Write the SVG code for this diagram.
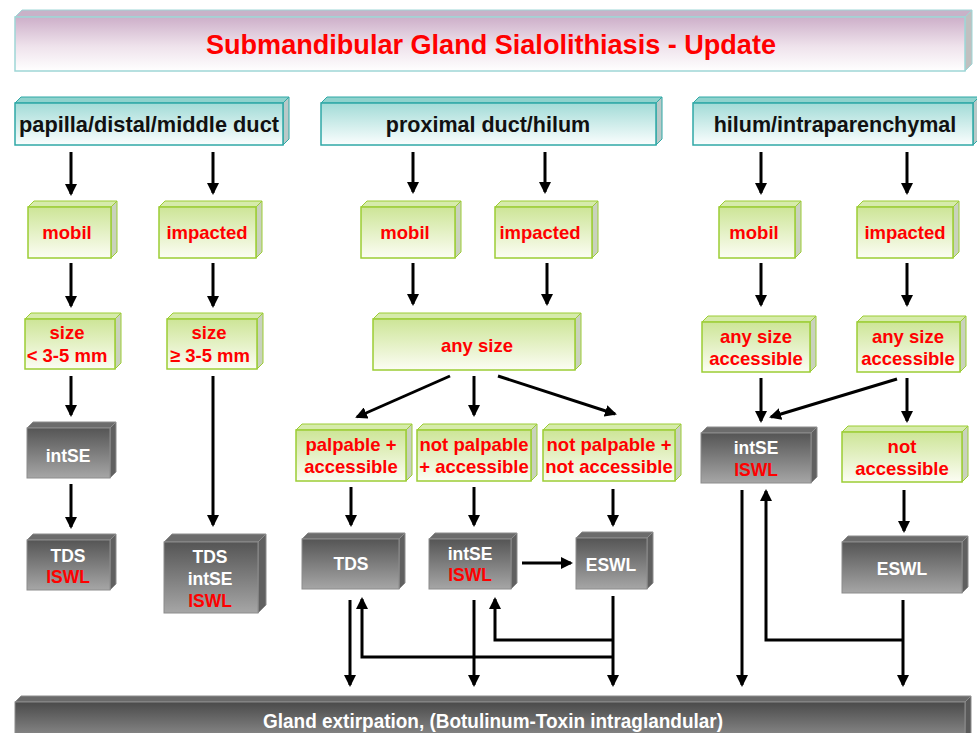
<svg xmlns="http://www.w3.org/2000/svg" width="977" height="733" viewBox="0 0 977 733">
<defs>
<linearGradient id="gTitle" x1="0" y1="0" x2="0" y2="1"><stop offset="0" stop-color="#cdafc9"/><stop offset="0.55" stop-color="#efe3ec"/><stop offset="1" stop-color="#ffffff"/></linearGradient>
<linearGradient id="gTeal" x1="0" y1="0" x2="0" y2="1"><stop offset="0" stop-color="#a2dbd7"/><stop offset="1" stop-color="#fbfefe"/></linearGradient>
<linearGradient id="gGreen" x1="0" y1="0" x2="0" y2="1"><stop offset="0" stop-color="#cde597"/><stop offset="1" stop-color="#fcfdf4"/></linearGradient>
<linearGradient id="gGray" x1="0" y1="0" x2="0" y2="1"><stop offset="0" stop-color="#555555"/><stop offset="1" stop-color="#a6a6a6"/></linearGradient>
<linearGradient id="gBar" x1="0" y1="0" x2="0" y2="1"><stop offset="0" stop-color="#4a4a4a"/><stop offset="1" stop-color="#9c9c9c"/></linearGradient>
<marker id="ah" viewBox="0 0 12 12" markerWidth="12" markerHeight="12" refX="10" refY="6" orient="auto" markerUnits="userSpaceOnUse"><path d="M0,0 L12,6 L0,12 z" fill="#000"/></marker>
</defs>
<style>
.t{font-family:"Liberation Sans",Arial,sans-serif;font-weight:bold;text-anchor:middle}
.hd{font-size:21.5px;fill:#111}
.gr{font-size:18.5px;fill:#ff0000}
.wt{font-size:17.5px;fill:#ffffff}
.rd{font-size:17.5px;fill:#ff0000}
.teal .f{fill:url(#gTeal);stroke:#2fa8a6;stroke-width:1.5}
.teal .tp{fill:#8fd2cd;stroke:#2fa8a6;stroke-width:1}
.teal .sd{fill:#b9c9c8;stroke:#2fa8a6;stroke-width:1}
.grn .f{fill:url(#gGreen);stroke:#9ccd34;stroke-width:1.5}
.grn .tp{fill:#d6ebab;stroke:#9ccd34;stroke-width:1}
.grn .sd{fill:#c9d2bd;stroke:#9ccd34;stroke-width:1}
.gry .f{fill:url(#gGray);stroke:#8c8c8c;stroke-width:1}
.gry .tp{fill:#6c6c6c;stroke:#8c8c8c;stroke-width:1}
.gry .sd{fill:#606060;stroke:#8c8c8c;stroke-width:1}
#connectors path{fill:none;stroke:#000;stroke-width:3;marker-end:url(#ah)}
</style>

<g id="title">
<polygon points="15,17 22,10 972,10 965,17" fill="#c8b2c8" stroke="#9ed6d6"/>
<polygon points="965,17 972,10 972,64 965,71" fill="#c0c0c0" stroke="#9ed6d6"/>
<rect x="15" y="17" width="950" height="54" fill="url(#gTitle)" stroke="#9ed6d6" stroke-width="1.5"/>
<text class="t" x="491" y="54" font-size="27" fill="#ff0000" textLength="570" lengthAdjust="spacingAndGlyphs">Submandibular Gland Sialolithiasis - Update</text>
</g>

<g id="h1" class="teal" transform="translate(15,103)">
<polygon class="tp" points="0,0 6,-6 274,-6 268,0"/><polygon class="sd" points="268,0 274,-6 274,36 268,42"/>
<rect class="f" x="0" y="0" width="268" height="42"/>
<text class="t hd" x="134" y="29" textLength="260" lengthAdjust="spacingAndGlyphs">papilla/distal/middle duct</text>
</g>
<g id="h2" class="teal" transform="translate(321,103)">
<polygon class="tp" points="0,0 6,-6 341,-6 335,0"/><polygon class="sd" points="335,0 341,-6 341,36 335,42"/>
<rect class="f" x="0" y="0" width="335" height="42"/>
<text class="t hd" x="167" y="29">proximal duct/hilum</text>
</g>
<g id="h3" class="teal" transform="translate(693,103)">
<polygon class="tp" points="0,0 6,-6 286,-6 280,0"/><polygon class="sd" points="280,0 286,-6 286,36 280,42"/>
<rect class="f" x="0" y="0" width="280" height="42"/>
<text class="t hd" x="142" y="29">hilum/intraparenchymal</text>
</g>

<g id="g1" class="grn" transform="translate(28,207)">
<polygon class="tp" points="0,0 6,-6 89,-6 83,0"/><polygon class="sd" points="83,0 89,-6 89,45 83,51"/>
<rect class="f" x="0" y="0" width="83" height="51"/>
<text class="t gr" x="39" y="32">mobil</text>
</g>
<g id="g2" class="grn" transform="translate(159,207)">
<polygon class="tp" points="0,0 6,-6 103,-6 97,0"/><polygon class="sd" points="97,0 103,-6 103,45 97,51"/>
<rect class="f" x="0" y="0" width="97" height="51"/>
<text class="t gr" x="48" y="32">impacted</text>
</g>
<g id="g3" class="grn" transform="translate(361,207)">
<polygon class="tp" points="0,0 6,-6 100,-6 94,0"/><polygon class="sd" points="94,0 100,-6 100,45 94,51"/>
<rect class="f" x="0" y="0" width="94" height="51"/>
<text class="t gr" x="44" y="32">mobil</text>
</g>
<g id="g4" class="grn" transform="translate(495,207)">
<polygon class="tp" points="0,0 6,-6 103,-6 97,0"/><polygon class="sd" points="97,0 103,-6 103,45 97,51"/>
<rect class="f" x="0" y="0" width="97" height="51"/>
<text class="t gr" x="45" y="32">impacted</text>
</g>
<g id="g5" class="grn" transform="translate(719,207)">
<polygon class="tp" points="0,0 6,-6 82,-6 76,0"/><polygon class="sd" points="76,0 82,-6 82,45 76,51"/>
<rect class="f" x="0" y="0" width="76" height="51"/>
<text class="t gr" x="35" y="32">mobil</text>
</g>
<g id="g6" class="grn" transform="translate(857,207)">
<polygon class="tp" points="0,0 6,-6 102,-6 96,0"/><polygon class="sd" points="96,0 102,-6 102,45 96,51"/>
<rect class="f" x="0" y="0" width="96" height="51"/>
<text class="t gr" x="48" y="32">impacted</text>
</g>

<g id="g7" class="grn" transform="translate(25,319)">
<polygon class="tp" points="0,0 6,-6 96,-6 90,0"/><polygon class="sd" points="90,0 96,-6 96,44 90,50"/>
<rect class="f" x="0" y="0" width="90" height="50"/>
<text class="t gr" x="42" y="20">size</text>
<text class="t gr" x="42" y="43">&lt; 3-5 mm</text>
</g>
<g id="g8" class="grn" transform="translate(167,319)">
<polygon class="tp" points="0,0 6,-6 96,-6 90,0"/><polygon class="sd" points="90,0 96,-6 96,44 90,50"/>
<rect class="f" x="0" y="0" width="90" height="50"/>
<text class="t gr" x="42" y="20">size</text>
<text class="t gr" x="43" y="43">≥ 3-5 mm</text>
</g>
<g id="g9" class="grn" transform="translate(373,319)">
<polygon class="tp" points="0,0 6,-6 208,-6 202,0"/><polygon class="sd" points="202,0 208,-6 208,45 202,51"/>
<rect class="f" x="0" y="0" width="202" height="51"/>
<text class="t gr" x="104" y="33">any size</text>
</g>
<g id="g10" class="grn" transform="translate(702,322)">
<polygon class="tp" points="0,0 6,-6 114,-6 108,0"/><polygon class="sd" points="108,0 114,-6 114,44 108,50"/>
<rect class="f" x="0" y="0" width="108" height="50"/>
<text class="t gr" x="54" y="21">any size</text>
<text class="t gr" x="54" y="43">accessible</text>
</g>
<g id="g11" class="grn" transform="translate(857,322)">
<polygon class="tp" points="0,0 6,-6 109,-6 103,0"/><polygon class="sd" points="103,0 109,-6 109,44 103,50"/>
<rect class="f" x="0" y="0" width="103" height="50"/>
<text class="t gr" x="51" y="21">any size</text>
<text class="t gr" x="51" y="43">accessible</text>
</g>

<g id="g12" class="grn" transform="translate(296,430)">
<polygon class="tp" points="0,0 6,-6 116,-6 110,0"/><polygon class="sd" points="110,0 116,-6 116,45 110,51"/>
<rect class="f" x="0" y="0" width="110" height="51"/>
<text class="t gr" x="55" y="21">palpable +</text>
<text class="t gr" x="55" y="43">accessible</text>
</g>
<g id="g13" class="grn" transform="translate(417,430)">
<polygon class="tp" points="0,0 6,-6 120,-6 114,0"/><polygon class="sd" points="114,0 120,-6 120,45 114,51"/>
<rect class="f" x="0" y="0" width="114" height="51"/>
<text class="t gr" x="57" y="21">not palpable</text>
<text class="t gr" x="57" y="43">+ accessible</text>
</g>
<g id="g14" class="grn" transform="translate(543,430)">
<polygon class="tp" points="0,0 6,-6 138,-6 132,0"/><polygon class="sd" points="132,0 138,-6 138,45 132,51"/>
<rect class="f" x="0" y="0" width="132" height="51"/>
<text class="t gr" x="66" y="21">not palpable +</text>
<text class="t gr" x="66" y="43">not accessible</text>
</g>
<g id="g15" class="grn" transform="translate(842,432)">
<polygon class="tp" points="0,0 6,-6 126,-6 120,0"/><polygon class="sd" points="120,0 126,-6 126,44 120,50"/>
<rect class="f" x="0" y="0" width="120" height="50"/>
<text class="t gr" x="60" y="21">not</text>
<text class="t gr" x="60" y="43">accessible</text>
</g>

<g id="k1" class="gry" transform="translate(27,428)">
<polygon class="tp" points="0,0 6,-6 89,-6 83,0"/><polygon class="sd" points="83,0 89,-6 89,44 83,50"/>
<rect class="f" x="0" y="0" width="83" height="50"/>
<text class="t wt" x="41" y="34">intSE</text>
</g>
<g id="k2" class="gry" transform="translate(27,540)">
<polygon class="tp" points="0,0 6,-6 89,-6 83,0"/><polygon class="sd" points="83,0 89,-6 89,44 83,50"/>
<rect class="f" x="0" y="0" width="83" height="50"/>
<text class="t wt" x="41" y="22">TDS</text>
<text class="t rd" x="41" y="43">ISWL</text>
</g>
<g id="k3" class="gry" transform="translate(164,542)">
<polygon class="tp" points="0,0 8,-8 102,-8 94,0"/><polygon class="sd" points="94,0 102,-8 102,63 94,71"/>
<rect class="f" x="0" y="0" width="94" height="71"/>
<text class="t wt" x="46" y="21">TDS</text>
<text class="t wt" x="46" y="43">intSE</text>
<text class="t rd" x="46" y="65">ISWL</text>
</g>
<g id="k4" class="gry" transform="translate(302,539)">
<polygon class="tp" points="0,0 6,-6 103,-6 97,0"/><polygon class="sd" points="97,0 103,-6 103,44 97,50"/>
<rect class="f" x="0" y="0" width="97" height="50"/>
<text class="t wt" x="49" y="31">TDS</text>
</g>
<g id="k5" class="gry" transform="translate(429,539)">
<polygon class="tp" points="0,0 6,-6 88,-6 82,0"/><polygon class="sd" points="82,0 88,-6 88,44 82,50"/>
<rect class="f" x="0" y="0" width="82" height="50"/>
<text class="t wt" x="41" y="21">intSE</text>
<text class="t rd" x="41" y="42">ISWL</text>
</g>
<g id="k6" class="gry" transform="translate(576,538)">
<polygon class="tp" points="0,0 6,-6 77,-6 71,0"/><polygon class="sd" points="71,0 77,-6 77,45 71,51"/>
<rect class="f" x="0" y="0" width="71" height="51"/>
<text class="t wt" x="35" y="33" font-size="18.5">ESWL</text>
</g>
<g id="k7" class="gry" transform="translate(701,433)">
<polygon class="tp" points="0,0 6,-6 116,-6 110,0"/><polygon class="sd" points="110,0 116,-6 116,44 110,50"/>
<rect class="f" x="0" y="0" width="110" height="50"/>
<text class="t wt" x="55" y="21">intSE</text>
<text class="t rd" x="55" y="43">ISWL</text>
</g>
<g id="k8" class="gry" transform="translate(842,542)">
<polygon class="tp" points="0,0 6,-6 126,-6 120,0"/><polygon class="sd" points="120,0 126,-6 126,45 120,51"/>
<rect class="f" x="0" y="0" width="120" height="51"/>
<text class="t wt" x="60" y="33" font-size="18.5">ESWL</text>
</g>

<g id="bar" class="gry" transform="translate(15,702)">
<polygon points="0,0 6,-6 956,-6 950,0" fill="#6a6a6a" stroke="#8c8c8c"/>
<polygon points="950,0 956,-6 956,40 950,46" fill="#5a5a5a" stroke="#8c8c8c"/>
<rect x="0" y="0" width="950" height="46" fill="url(#gBar)" stroke="#8c8c8c"/>
<text class="t" x="478" y="26" font-size="20.5" fill="#ffffff" textLength="460" lengthAdjust="spacingAndGlyphs">Gland extirpation, (Botulinum-Toxin intraglandular)</text>
</g>

<g id="connectors">
<path d="M71,152 V194"/>
<path d="M213,152 V193"/>
<path d="M413,152 V192"/>
<path d="M545,152 V192"/>
<path d="M761,152 V193"/>
<path d="M907,152 V193"/>
<path d="M71,263 V306"/>
<path d="M213,263 V306"/>
<path d="M413,263 V304"/>
<path d="M547,263 V304"/>
<path d="M761,263 V305"/>
<path d="M907,263 V305"/>
<path d="M71,376 V415"/>
<path d="M213,376 V525"/>
<path d="M450,376 L357,417"/>
<path d="M474,376 V415"/>
<path d="M498,376 L615,414"/>
<path d="M761,378 V421"/>
<path d="M897,379 L771,417"/>
<path d="M907,378 V421"/>
<path d="M71,484 V527"/>
<path d="M351,487 V525"/>
<path d="M474,487 V525"/>
<path d="M613,489 V525"/>
<path d="M904,490 V531"/>
<path d="M522,563 H571"/>
<path d="M350,600 V685"/>
<path d="M613,657 H362 V599"/>
<path d="M474,600 V685"/>
<path d="M613,640 H495 V599"/>
<path d="M613,596 V685"/>
<path d="M742,490 V685"/>
<path d="M903,640 H766 V491"/>
<path d="M903,600 V685"/>
</g>
</svg>
